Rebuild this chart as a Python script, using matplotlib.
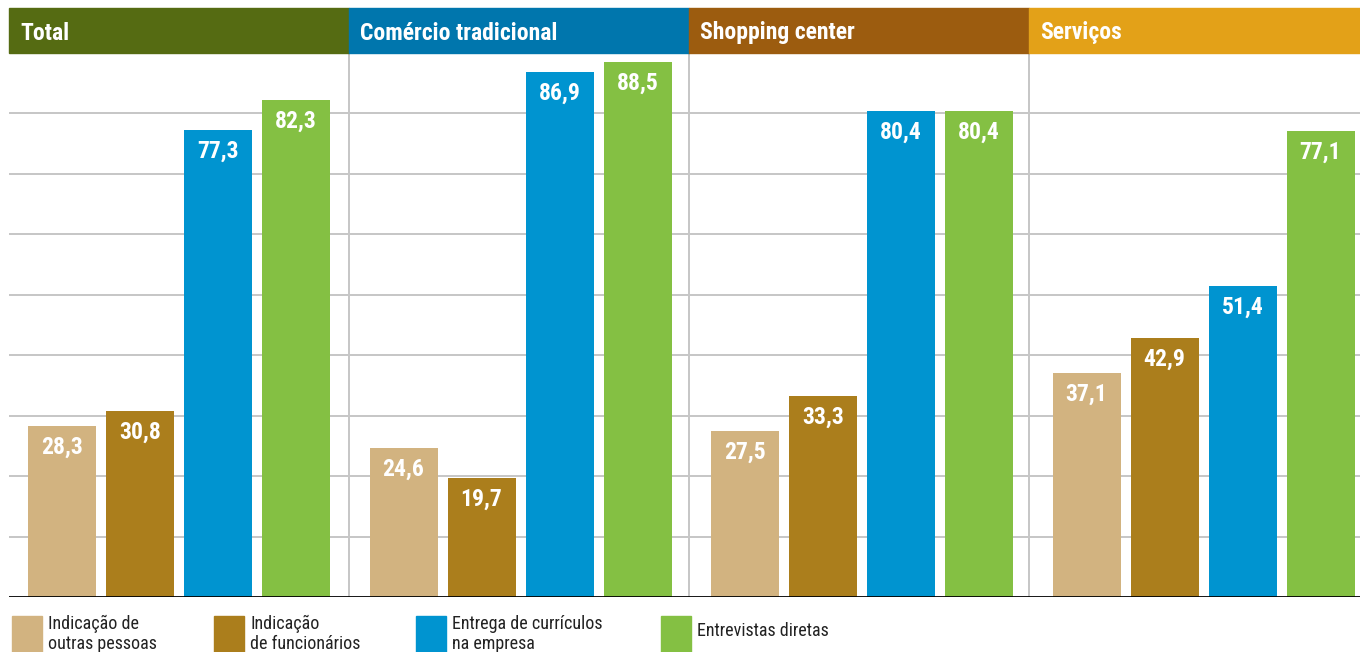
import matplotlib
matplotlib.use("Agg")
import matplotlib.pyplot as plt
from matplotlib.patches import Rectangle
from matplotlib import font_manager

panels = ["Total", "Comércio tradicional", "Shopping center", "Serviços"]
series = ["Indicação de\noutras pessoas", "Indicação\nde funcionários",
          "Entrega de currículos\nna empresa", "Entrevistas diretas"]
outras = [28.3, 24.6, 27.5, 37.1]
funcionarios = [30.8, 19.7, 33.3, 42.9]
curriculos = [77.3, 86.9, 80.4, 51.4]
entrevistas = [82.3, 88.5, 80.4, 77.1]
values = [outras, funcionarios, curriculos, entrevistas]

header_colors = ["#556B12", "#0076AD", "#9C5C0F", "#E3A118"]
bar_colors = ["#D2B380", "#AB7E1C", "#0094D0", "#84C043"]

fl = font_manager.fontManager.ttflist
names = {f.name for f in fl}
family = "DejaVu Sans"
stretch = "normal"
for cand in ["Roboto Condensed", "Liberation Sans Narrow", "Open Sans Condensed"]:
    if cand in names:
        family = cand
        break
else:
    if any(f.name == "DejaVu Sans" and f.stretch == "condensed" for f in fl):
        stretch = "condensed"
plt.rcParams['font.family'] = [family, 'DejaVu Sans']
plt.rcParams['font.stretch'] = stretch

W, H = 1360, 652
fig = plt.figure(figsize=(W / 100, H / 100), dpi=100)
ax = fig.add_axes([9 / W, (H - 597) / H, (1360 - 9) / W, (597 - 53) / H])
ax.set_xlim(9, 1360)
ax.set_ylim(0, 90)
for s in ax.spines.values():
    s.set_visible(False)
ax.set_xticks([])
ax.set_yticks([])

for g in range(10, 90, 10):
    ax.axhline(g, color="#C6C6C6", lw=1.4, zorder=0)
for sep in [349, 689, 1029]:
    ax.axvline(sep, color="#C6C6C6", lw=1.4, zorder=0)

bw = 68
for p in range(4):
    for i in range(4):
        left = 28 + 341.5 * p + 78 * i
        v = values[i][p]
        ax.bar(left, v, width=bw, align="edge", color=bar_colors[i], zorder=2)
        ax.annotate(f"{v:.1f}".replace(".", ","), (left + bw / 2, v),
                    xytext=(0, -7), textcoords="offset points",
                    ha="center", va="top", color="white",
                    fontsize=17, fontweight="bold", zorder=3)

ax.axhline(0, color="black", lw=2, zorder=4)

# headers
hx = [9, 349, 689, 1029, 1360]
for p in range(4):
    fig.patches.append(Rectangle((hx[p] / W, (H - 53) / H), (hx[p + 1] - hx[p]) / W, 45 / H,
                                 transform=fig.transFigure, color=header_colors[p], zorder=1))
    fig.text((hx[p] + 11) / W, (H - 33) / H, panels[p], color="white",
             fontsize=17, fontweight="bold", va="center", ha="left")

# legend
lx = [12, 214, 416, 661]
for i in range(4):
    fig.patches.append(Rectangle((lx[i] / W, (H - 660) / H), 30 / W, 44 / H,
                                 transform=fig.transFigure, color=bar_colors[i]))
    if "\n" in series[i]:
        fig.text((lx[i] + 36) / W, (H - 615) / H, series[i], color="#222222",
                 fontsize=13, va="top", ha="left", linespacing=1.12)
    else:
        fig.text((lx[i] + 36) / W, (H - 631) / H, series[i], color="#222222",
                 fontsize=13, va="center", ha="left")

fig.savefig("out.png", dpi=100)
